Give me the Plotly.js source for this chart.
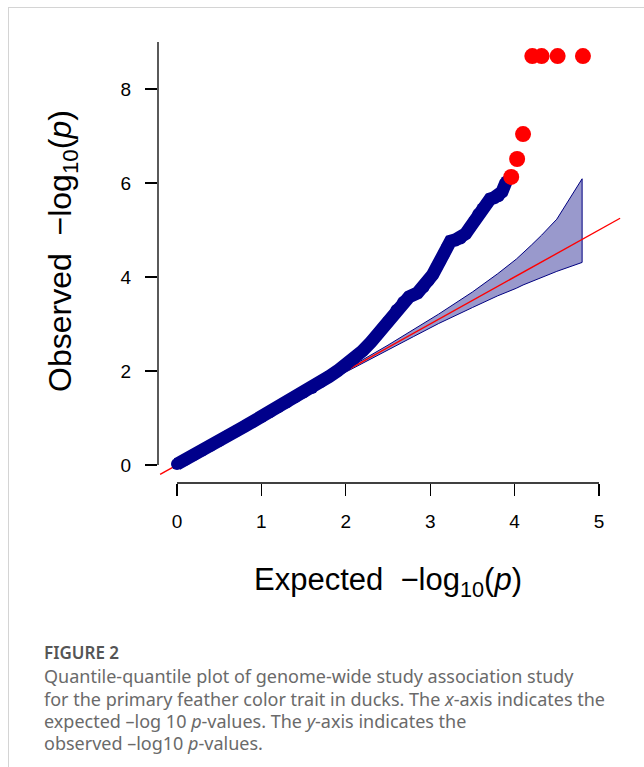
<!DOCTYPE html>
<html>
<head>
<meta charset="utf-8">
<script src="https://cdn.plot.ly/plotly-3.0.1.min.js"></script>
<style>
  html, body { margin: 0; padding: 0; background: #fff; }
  #wrap { position: relative; width: 644px; height: 767px; }
  #chart { position: absolute; left: 0; top: 0; width: 644px; height: 767px; }
  #frame { position: absolute; left: 8px; top: 7px; right: 0; bottom: 0;
           border-left: 1px solid #d4d4d4; border-top: 1px solid #d4d4d4; pointer-events: none; }
</style>
</head>
<body>
<div id="wrap"><div id="chart"></div><div id="frame"></div></div>
<script>
// ---- data ----
// observed vs expected -log10(p), non-significant points (blue)
const blueExpected = [0.00, 0.10, 0.20, 0.30, 0.40, 0.50, 0.60, 0.70, 0.80, 0.90,
                      1.00, 1.10, 1.20, 1.30, 1.40, 1.50, 1.60, 1.70, 1.80, 1.90,
                      2.00, 2.10, 2.20, 2.30, 2.40, 2.50, 2.60, 2.68, 2.75, 2.85,
                      2.92, 2.98, 3.03, 3.08, 3.12, 3.16, 3.20, 3.24, 3.30, 3.36,
                      3.42, 3.47, 3.52, 3.57, 3.62, 3.67, 3.71, 3.76, 3.81, 3.85, 3.90];
const blueObserved = [0.02, 0.11, 0.21, 0.31, 0.41, 0.51, 0.62, 0.72, 0.82, 0.92,
                      1.02, 1.12, 1.23, 1.33, 1.44, 1.54, 1.64, 1.76, 1.88, 2.00,
                      2.12, 2.26, 2.43, 2.62, 2.83, 3.05, 3.30, 3.47, 3.58, 3.66,
                      3.78, 3.92, 4.05, 4.22, 4.34, 4.48, 4.64, 4.76, 4.79, 4.82,
                      4.92, 5.05, 5.18, 5.34, 5.46, 5.56, 5.66, 5.69, 5.72, 5.81, 6.03];
// significant points (red)
const redExpected = [3.96, 4.03, 4.10, 4.21, 4.32, 4.51, 4.81];
const redObserved = [6.13, 6.51, 7.04, 8.70, 8.70, 8.70, 8.70];
// confidence band
const bandExpected = [1.95, 2.00, 2.50, 2.80, 3.10, 3.50, 3.80, 4.02, 4.10, 4.20, 4.32, 4.50, 4.80];
const bandUpper    = [1.97, 2.03, 2.55, 2.88, 3.21, 3.68, 4.07, 4.38, 4.51, 4.68, 4.89, 5.23, 6.09];
const bandLower    = [1.93, 1.97, 2.45, 2.73, 3.01, 3.35, 3.60, 3.76, 3.83, 3.91, 3.99, 4.12, 4.31];
// y = x reference line
const refLine = [-0.2, 5.25];
// ticks
const xTicks = [0, 1, 2, 3, 4, 5];
const xTickLabels = ["0", "1", "2", "3", "4", "5"];
const yTicks = [0, 2, 4, 6, 8];
const yTickLabels = ["0", "2", "4", "6", "8"];
const axisTop = 9;

// ---- layout helpers (pixel -> paper) ----
const L = 158, R = 19, T = 42, B = 284, W = 644, H = 767;
const PX = px => (px - L) / (W - L - R);
const PY = py => (H - B - py) / (H - T - B);

const navy = "#00008B";
const band = {
  x: bandExpected.concat(bandExpected.slice().reverse()),
  y: bandUpper.concat(bandLower.slice().reverse()),
  mode: "lines", fill: "toself", fillcolor: "rgba(0,0,128,0.4)",
  line: {color: "#000080", width: 1}, hoverinfo: "skip", showlegend: false
};
const ref = {
  x: refLine, y: refLine, mode: "lines",
  line: {color: "#FF0000", width: 1.4}, showlegend: false
};
const blue = {
  x: blueExpected, y: blueObserved, mode: "lines+markers",
  line: {color: navy, width: 13}, marker: {color: navy, size: 12},
  showlegend: false
};
const red = {
  x: redExpected, y: redObserved, mode: "markers",
  marker: {color: "#FF0000", size: 16}, showlegend: false
};

const sans = "Liberation Sans";
const tickFont = {family: sans, size: 19, color: "#000000"};
const capFont = {family: "Noto Sans", size: 18, color: "#6a6a6a"};

const captionLines = [
  "Quantile-quantile plot of genome-wide study association study",
  "for the primary feather color trait in ducks. The <i>x</i>-axis indicates the",
  "expected \u2013log 10 <i>p</i>-values. The <i>y</i>-axis indicates the",
  "observed \u2013log10 <i>p</i>-values."
];
const captionY = [676, 699, 721, 743];

const annotations = [
  {text: "Expected  \u2212log<sub>10</sub>(<i>p</i>)", xref: "x", yref: "paper",
   x: 2.5, y: PY(582), xanchor: "center", yanchor: "middle", showarrow: false,
   font: {family: sans, size: 31, color: "#000"}},
  {text: "Observed  \u2212log<sub>10</sub>(<i>p</i>)", xref: "paper", yref: "paper",
   x: PX(62), y: PY(251), xanchor: "center", yanchor: "middle", showarrow: false,
   textangle: -90,
   font: {family: sans, size: 32, color: "#000"}},
  {text: "FIGURE 2", xref: "paper", yref: "paper", x: PX(42), y: PY(652),
   xanchor: "left", yanchor: "middle", showarrow: false,
   font: {family: "Noto Sans", size: 17, color: "#555", weight: 600}}
].concat(captionLines.map((t, i) => ({
  text: t, xref: "paper", yref: "paper", x: PX(42), y: PY(captionY[i]),
  xanchor: "left", yanchor: "middle", showarrow: false, align: "left", font: capFont
})));

const layout = {
  width: W, height: H,
  font: tickFont,
  margin: {l: L, r: R, t: T, b: B, pad: 0},
  paper_bgcolor: "rgba(0,0,0,0)", plot_bgcolor: "rgba(0,0,0,0)",
  showlegend: false,
  xaxis: {range: [(L - 177) / 84.4, (W - R - 177) / 84.4], showgrid: false, zeroline: false,
          showline: false, ticks: "outside", ticklen: 12, tickwidth: 1.3, tickcolor: "#000",
          tickmode: "array", tickvals: xTicks, ticktext: xTickLabels,
          tickfont: {family: sans, size: 19, color: "#000000"}, ticklabelstandoff: 9,
          fixedrange: true},
  yaxis: {range: [-18 / 47, axisTop], showgrid: false, zeroline: false,
          showline: false, ticks: "outside", ticklen: 12, tickwidth: 1.3, tickcolor: "#000",
          tickmode: "array", tickvals: yTicks, ticktext: yTickLabels,
          tickfont: {family: sans, size: 19, color: "#000000"}, ticklabelstandoff: 10,
          tickangle: 0, fixedrange: true},
  shapes: [
    {type: "line", xref: "x", yref: "paper", x0: xTicks[0], x1: xTicks[xTicks.length - 1], y0: 0, y1: 0,
     line: {color: "#000", width: 1.3}},
    {type: "line", xref: "paper", yref: "y", x0: 0, x1: 0, y0: yTicks[0], y1: axisTop,
     line: {color: "#000", width: 1.3}}
  ],
  annotations: annotations
};

Plotly.newPlot("chart", [band, ref, blue, red], layout, {displayModeBar: false, staticPlot: true});
</script>
</body>
</html>
